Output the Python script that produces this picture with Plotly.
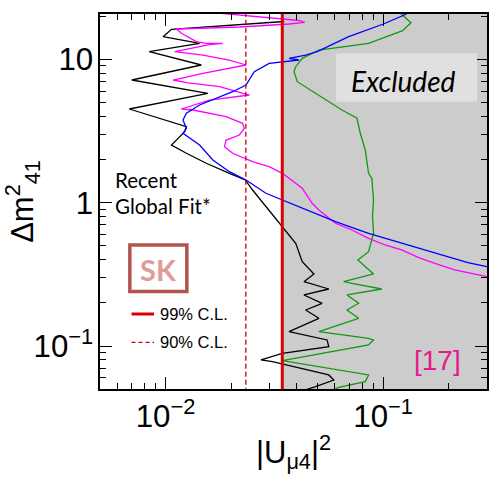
import plotly.graph_objects as go
import math

# ---- data (|U_mu4|^2 vs dm41^2) ----
black_x = [0.0351, 0.01065, 0.00975, 0.01434, 0.00842, 0.0146, 0.0070, 0.01565, 0.00682, 0.01247,
           0.01225, 0.01065, 0.01247, 0.01539, 0.01966, 0.02326, 0.02512, 0.02892, 0.03443, 0.03965,
           0.04249, 0.04806, 0.04326, 0.05626, 0.04326, 0.05244, 0.04404, 0.05066, 0.03695, 0.05527,
           0.05626, 0.03443, 0.02744, 0.03099, 0.05626, 0.05931, 0.04892, 0.04105]
black_y = [18.35, 16.19, 14.38, 12.93, 11.30, 9.126, 7.171, 5.793, 4.502, 3.388,
           3.127, 2.526, 2.211, 1.883, 1.603, 1.440, 1.226, 0.938, 0.680, 0.521,
           0.388, 0.3184, 0.2812, 0.2501, 0.2272, 0.1988, 0.1785, 0.1562, 0.126, 0.1103,
           0.0990, 0.0891, 0.0800, 0.0778, 0.0629, 0.0580, 0.0521, 0.0479]

green_x = [0.1212, 0.1342, 0.1229, 0.08569, 0.05066, 0.04249, 0.03965, 0.03894, 0.04032, 0.05066,
           0.06471, 0.07576, 0.07852, 0.08276, 0.08569, 0.0887, 0.09031, 0.08936, 0.09031, 0.08569,
           0.07656, 0.09031, 0.06587, 0.07187, 0.09854, 0.0682, 0.07713, 0.0682, 0.07713, 0.05066,
           0.08569, 0.09031, 0.08569, 0.03443, 0.08569, 0.08276, 0.0625, 0.05626]
green_y = [20.7, 18.0, 15.83, 12.93, 11.61, 10.16, 8.878, 8.195, 6.980, 5.636,
           4.430, 3.878, 3.048, 2.331, 1.603, 1.480, 1.044, 0.7986, 0.6115, 0.4552,
           0.3985, 0.3184, 0.2812, 0.2741, 0.2501, 0.2272, 0.1988, 0.1785, 0.1562, 0.126,
           0.1133, 0.1103, 0.1018, 0.0791, 0.0629, 0.0565, 0.0516, 0.0479]

blue_x = [0.1282, 0.1003, 0.06944, 0.04976, 0.04404, 0.03695, 0.04105, 0.03443, 0.02994, 0.02557,
          0.02427, 0.02344, 0.02035, 0.0171, 0.01434, 0.01247, 0.01203, 0.01247, 0.01203, 0.01434,
          0.0165, 0.01966, 0.02344, 0.02892, 0.03443, 0.04249, 0.05066, 0.06037, 0.08569, 0.1216,
          0.1728, 0.2452, 0.2994, 0.336]
blue_y = [20.7, 17.63, 14.38, 11.30, 10.71, 10.16, 9.888, 9.623, 9.378, 8.195,
          7.171, 6.619, 5.943, 5.346, 4.800, 4.203, 3.774, 3.303, 3.048, 2.526,
          1.986, 1.645, 1.440, 1.163, 1.044, 0.914, 0.8209, 0.737, 0.6115, 0.521,
          0.4437, 0.3816, 0.3578, 0.345]

magenta_x = [0.01733, 0.02695, 0.04105, 0.04357, 0.03695, 0.02184, 0.01123, 0.01183, 0.01385, 0.01539,
             0.01832, 0.01593, 0.01103, 0.01485, 0.01966, 0.02344, 0.01485, 0.01083, 0.01247, 0.0177,
             0.02427, 0.01593, 0.01183, 0.01337, 0.01899, 0.02261, 0.02302, 0.02184, 0.01899, 0.01866,
             0.02035, 0.02512, 0.02994, 0.03443, 0.04249, 0.04721, 0.05066, 0.06037, 0.07187, 0.08569,
             0.1021, 0.1216, 0.1449, 0.1728, 0.2133, 0.2994, 0.336]
magenta_y = [21.03, 19.72, 18.65, 18.11, 17.63, 16.80, 16.27, 15.18, 13.27, 12.93,
             12.93, 12.68, 11.30, 10.71, 9.888, 9.126, 7.987, 7.171, 6.869, 6.442,
             5.636, 5.201, 4.502, 4.430, 3.978, 3.578, 3.303, 2.966, 2.736, 2.458,
             2.211, 1.931, 1.782, 1.603, 1.260, 0.9904, 0.8892, 0.7183, 0.6451, 0.5645,
             0.507, 0.468, 0.416, 0.3778, 0.3394, 0.3048, 0.2891]

limit_99 = 0.0344
limit_90 = 0.0234
x_range = [0.005, 0.3]
y_range = [0.0502, 20.7]

xr = [math.log10(v) for v in x_range]
yr = [math.log10(v) for v in y_range]

fig = go.Figure()

# excluded region
fig.add_trace(go.Scatter(x=[limit_99, 10, 10, limit_99], y=[0.001, 0.001, 1000, 1000],
                         fill="toself", fillcolor="#cccccc", line=dict(width=0),
                         mode="lines", hoverinfo="skip", showlegend=False))

lw = 1.3
fig.add_trace(go.Scatter(x=black_x, y=black_y, mode="lines", line=dict(color="black", width=lw), showlegend=False))
fig.add_trace(go.Scatter(x=green_x, y=green_y, mode="lines", line=dict(color="#119911", width=lw), showlegend=False))
fig.add_trace(go.Scatter(x=magenta_x, y=magenta_y, mode="lines", line=dict(color="#ff00ff", width=lw), showlegend=False))
fig.add_trace(go.Scatter(x=blue_x, y=blue_y, mode="lines", line=dict(color="#0000ff", width=lw), showlegend=False))

fig.add_trace(go.Scatter(x=[limit_90, limit_90], y=[0.001, 1000], mode="lines",
                         line=dict(color="#cc0000", width=1.3, dash="5px,3px"), showlegend=False))
fig.add_trace(go.Scatter(x=[limit_99, limit_99], y=[0.001, 1000], mode="lines",
                         line=dict(color="#dd0000", width=3), showlegend=False))

def px2paper(px, py):
    return (px - 100) / 389.0, (389 - py) / 375.0

shapes = []
# Excluded label box
x0, y1 = px2paper(337.3, 53.3)
x1, y0 = px2paper(479, 101.7)
shapes.append(dict(type="rect", xref="paper", yref="paper", x0=x0, x1=x1, y0=y0, y1=y1,
                   fillcolor="#e0e0e0", line=dict(width=0), layer="above"))
# SK box
x0, y1 = px2paper(130, 245)
x1, y0 = px2paper(187.3, 291.6)
shapes.append(dict(type="rect", xref="paper", yref="paper", x0=x0, x1=x1, y0=y0, y1=y1,
                   line=dict(color="#b05450", width=3.5), fillcolor="rgba(0,0,0,0)"))
# legend lines
a, b = px2paper(131.7, 314)
c, _ = px2paper(154.3, 314)
shapes.append(dict(type="line", xref="paper", yref="paper", x0=a, x1=c, y0=b, y1=b,
                   line=dict(color="#dd0000", width=3)))
a, b = px2paper(131.7, 342.3)
shapes.append(dict(type="line", xref="paper", yref="paper", x0=a, x1=c, y0=b, y1=b,
                   line=dict(color="#cc0000", width=1.3, dash="4px,3px")))

annotations = []
def ann(text, px, py, size, family, color="black", xanchor="center", **kw):
    x, y = px2paper(px, py)
    annotations.append(dict(text=text, x=x, y=y, xref="paper", yref="paper", showarrow=False,
                            xanchor=xanchor, yanchor="middle",
                            font=dict(size=size, family=family, color=color), **kw))

ann("<i>Excluded</i>", 404.7, 80.5, 28, "Lato")
ann("Recent", 113, 180, 20.5, "Lato", xanchor="left")
ann("Global Fit*", 113, 206, 20.5, "Lato", xanchor="left")
ann("<b>SK</b>", 158.5, 269, 29, "Lato", color="#e09c97")
ann("99% C.L.", 158, 314, 16.5, "Liberation Sans", xanchor="left")
ann("90% C.L.", 158, 342.3, 16.5, "Liberation Sans", xanchor="left")
ann("[17]", 439, 360.5, 28, "Liberation Sans", color="#e6198a")

axis_common = dict(type="log", showline=True, linecolor="black", linewidth=1.5, mirror="ticks",
                   ticks="inside", ticklen=12, tickwidth=1.3, tickcolor="black",
                   dtick=1, exponentformat="power", showgrid=False, zeroline=False,
                   minor=dict(ticks="inside", ticklen=6, tickwidth=1.3, tickcolor="black",
                              dtick="D1", showgrid=False),
                   tickfont=dict(family="Liberation Sans", size=25, color="black"))

fig.update_layout(
    width=489, height=478,
    margin=dict(l=100, r=0, t=14, b=89),
    plot_bgcolor="white", paper_bgcolor="white",
    xaxis=dict(range=xr, title=dict(text="|U<sub>μ4</sub>|<sup>2</sup>",
                                    font=dict(family="Liberation Sans", size=31, color="black"), standoff=8),
               **axis_common),
    yaxis=dict(range=yr, title=dict(text="Δm<sup>2</sup><sub>41</sub>",
                                    font=dict(family="Liberation Sans", size=31, color="black"), standoff=4),
               **axis_common),
    shapes=shapes, annotations=annotations,
)

fig.write_html("out.html")
